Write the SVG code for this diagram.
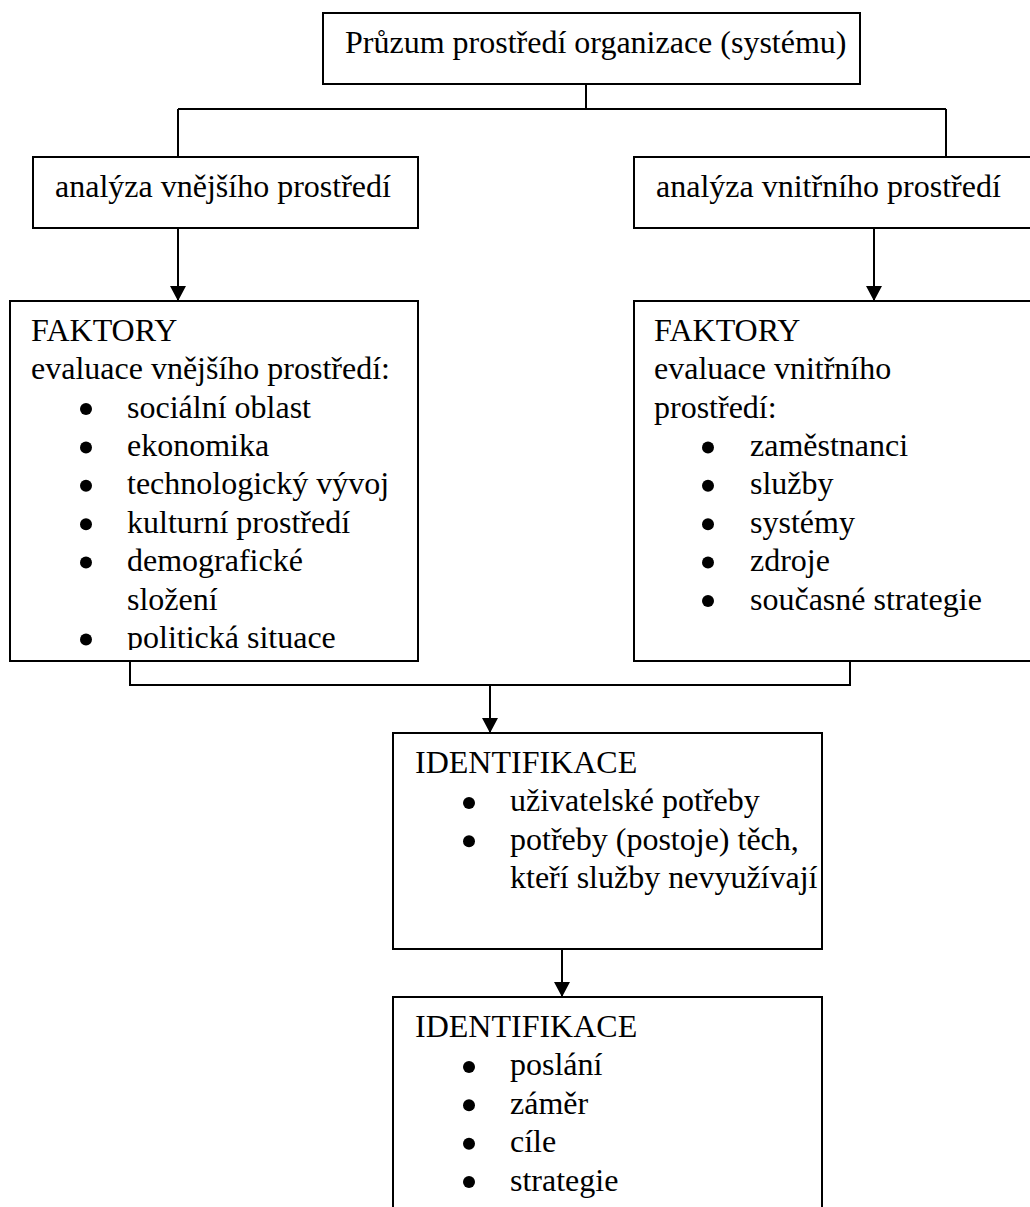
<svg xmlns="http://www.w3.org/2000/svg" width="1030" height="1207" viewBox="0 0 1030 1207">
<style>
.box{fill:#fff;stroke:#000;stroke-width:2}
text{font-family:'Liberation Serif','Times New Roman','DejaVu Serif',serif;font-size:32px;fill:#000}
.c{fill:none;stroke:#000;stroke-width:2}
</style>
<defs>
<marker id="arr" markerUnits="userSpaceOnUse" markerWidth="15" markerHeight="16" refX="15" refY="8" orient="auto">
<path d="M0,0 L15,8 L0,16 Z" fill="#000"/>
</marker>
<circle id="dot" r="6" fill="#000"/>
<clipPath id="clipL"><rect x="10" y="301" width="408" height="349"/></clipPath>
</defs>
<rect width="1030" height="1207" fill="#fff"/>
<g id="connectors">
<path class="c" d="M586,84 V109 M178,109 H946 M178,109 V157 M946,109 V157"/>
<path class="c" d="M178,228 V301" marker-end="url(#arr)"/>
<path class="c" d="M874,228 V301" marker-end="url(#arr)"/>
<path class="c" d="M130,661 V685 H850 V661"/>
<path class="c" d="M490,685 V733" marker-end="url(#arr)"/>
<path class="c" d="M562,949 V997" marker-end="url(#arr)"/>
</g>
<g id="top">
<rect class="box" x="323" y="13" width="537" height="71"/>
<text x="345" y="53">Průzum prostředí organizace (systému)</text>
</g>
<g id="ext">
<rect class="box" x="33" y="157" width="385" height="71"/>
<text x="55" y="197">analýza vnějšího prostředí</text>
</g>
<g id="int">
<rect class="box" x="634" y="157" width="400" height="71"/>
<text x="656" y="197">analýza vnitřního prostředí</text>
</g>
<g id="faktory-ext">
<rect class="box" x="10" y="301" width="408" height="360"/>
<g clip-path="url(#clipL)">
<text x="31" y="340.7">FAKTORY</text>
<text x="31" y="379.1">evaluace vnějšího prostředí:</text>
<use href="#dot" x="86" y="409"/><text x="127" y="417.5">sociální oblast</text>
<use href="#dot" x="86" y="447.4"/><text x="127" y="455.9">ekonomika</text>
<use href="#dot" x="86" y="485.8"/><text x="127" y="494.3">technologický vývoj</text>
<use href="#dot" x="86" y="524.2"/><text x="127" y="532.7">kulturní prostředí</text>
<use href="#dot" x="86" y="562.6"/><text x="127" y="571.1">demografické</text>
<text x="127" y="609.5">složení</text>
<use href="#dot" x="86" y="639.4"/><text x="127" y="647.9">politická situace</text>
</g>
</g>
<g id="faktory-int">
<rect class="box" x="634" y="301" width="400" height="360"/>
<text x="654" y="340.7">FAKTORY</text>
<text x="654" y="379.1">evaluace vnitřního</text>
<text x="654" y="417.5">prostředí:</text>
<use href="#dot" x="708" y="447.4"/><text x="750" y="455.9">zaměstnanci</text>
<use href="#dot" x="708" y="485.8"/><text x="750" y="494.3">služby</text>
<use href="#dot" x="708" y="524.2"/><text x="750" y="532.7">systémy</text>
<use href="#dot" x="708" y="562.6"/><text x="750" y="571.1">zdroje</text>
<use href="#dot" x="708" y="601"/><text x="750" y="609.5">současné strategie</text>
</g>
<g id="ident1">
<rect class="box" x="393" y="733" width="429" height="216"/>
<text x="415" y="773">IDENTIFIKACE</text>
<use href="#dot" x="469" y="802.9"/><text x="510" y="811.4">uživatelské potřeby</text>
<use href="#dot" x="469" y="841.3"/><text x="510" y="849.8">potřeby (postoje) těch,</text>
<text x="510" y="888.2">kteří služby nevyužívají</text>
</g>
<g id="ident2">
<rect class="box" x="393" y="997" width="429" height="220"/>
<text x="415" y="1037">IDENTIFIKACE</text>
<use href="#dot" x="469" y="1066.9"/><text x="510" y="1075.4">poslání</text>
<use href="#dot" x="469" y="1105.3"/><text x="510" y="1113.8">záměr</text>
<use href="#dot" x="469" y="1143.7"/><text x="510" y="1152.2">cíle</text>
<use href="#dot" x="469" y="1182.1"/><text x="510" y="1190.6">strategie</text>
</g>
</svg>
